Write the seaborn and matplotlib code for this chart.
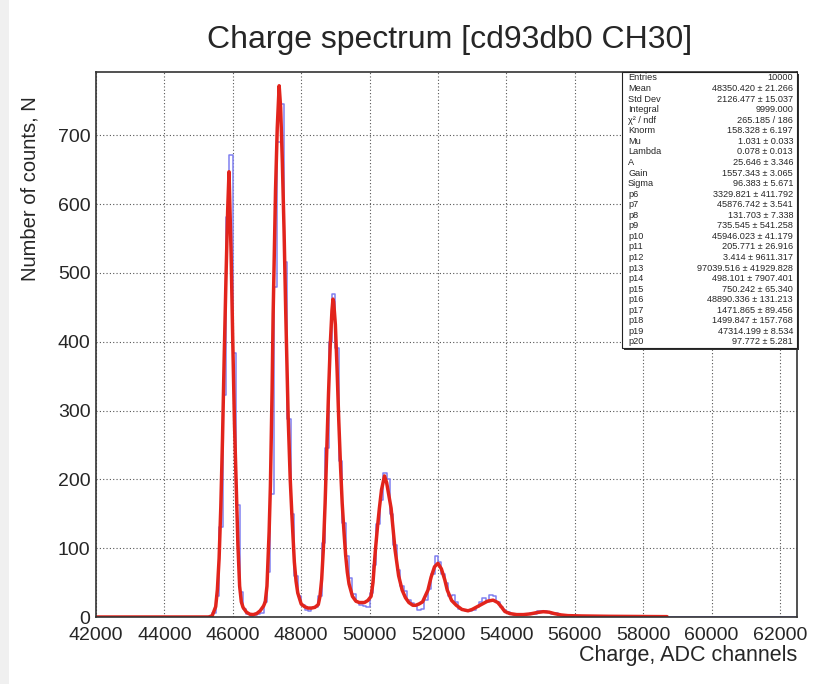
import numpy as np
import pandas as pd
import matplotlib
matplotlib.use("Agg")
import matplotlib.pyplot as plt
import seaborn as sns
from matplotlib.ticker import MultipleLocator
from matplotlib.patches import Rectangle

sns.set_style("white")
plt.rcParams["font.family"] = ["Liberation Sans", "DejaVu Sans"]

# histogram contents, 100-channel bins starting at 45200
bin_width = 100
first_bin = 45200
hist_counts = [
    0, 1, 6, 30, 131, 322, 582, 671, 384, 163, 37, 12, 4, 2, 3, 4, 6, 22,
    65, 179, 479, 690, 746, 516, 288, 150, 60, 30, 18, 10, 8, 13, 15, 30,
    107, 245, 400, 470, 391, 226, 136, 88, 57, 33, 22, 18, 16, 14, 35, 75,
    135, 170, 209, 200, 150, 105, 68, 45, 38, 25, 20, 17, 10, 12, 25, 40,
    62, 88, 80, 62, 50, 30, 32, 22, 12, 10, 8, 9, 10, 14, 22, 27, 22, 32,
    31, 22, 15, 10, 7, 5, 3, 4, 3, 4, 4, 6, 5, 8, 9, 8, 7, 5, 6, 3, 3, 2,
    2, 1, 2, 1, 1, 2, 1, 1, 0, 1, 1, 0, 1,
]

# fit curve
fit_x = [
    42000, 45300, 45400, 45500, 45550, 45600, 45650, 45700, 45750, 45800,
    45850, 45890, 45950, 46000, 46050, 46100, 46150, 46200, 46250, 46300,
    46400, 46500, 46600, 46700, 46800, 46900, 46950, 47000, 47063, 47100,
    47150, 47180, 47250, 47300, 47356, 47400, 47450, 47500, 47550, 47620,
    47680, 47727, 47800, 47850, 47900, 48000, 48100, 48200, 48300, 48400,
    48500, 48550, 48600, 48650, 48700, 48750, 48800, 48850, 48900, 48930,
    48950, 49000, 49050, 49100, 49150, 49200, 49250, 49300, 49350, 49400,
    49500, 49600, 49700, 49800, 49850, 49950, 50044, 50100, 50170, 50230,
    50287, 50350, 50437, 50500, 50560, 50630, 50700, 50747, 50850, 50953,
    51050, 51150, 51267, 51350, 51450, 51550, 51707, 51800, 51900, 52000,
    52100, 52200, 52273, 52400, 52537, 52700, 52880, 53000, 53150, 53300,
    53450, 53613, 53750, 53850, 53956, 54100, 54300, 54500, 54700, 54900,
    55080, 55250, 55400, 55600, 55800, 56200, 57000, 58000, 58700,
]
fit_y = [
    0, 0, 2, 15, 40, 85, 160, 260, 380, 490,
    590, 647, 530, 400, 280, 190, 105, 45, 22, 14,
    7, 4, 3.5, 5, 9, 16, 22, 45, 124, 190,
    330, 440, 620, 710, 772, 740, 660, 560, 440, 290,
    200, 150, 80, 52, 35, 19, 15, 13, 13, 14,
    18, 30, 55, 100, 165, 245, 325, 395, 445, 462,
    458, 425, 360, 285, 220, 165, 125, 90, 65, 48,
    30, 23, 21, 21, 21, 24, 30, 50, 97, 130,
    158, 185, 205, 195, 178, 158, 122, 97, 60, 39,
    28, 21, 17, 17, 19, 22, 39, 58, 73, 78,
    70, 54, 39, 24, 17, 11, 9, 11, 15, 19,
    23, 24.5, 21, 15, 8, 5, 3.5, 3.5, 4.5, 6.5,
    7.7, 7, 5, 3, 2, 1.5, 1, 0.7, 0.5,
]

stat_names = [
    "Entries", "Mean", "Std Dev", "Integral", "\u03c7\u00b2 / ndf", "Knorm", "Mu",
    "Lambda", "A", "Gain", "Sigma", "p6", "p7", "p8", "p9", "p10", "p11",
    "p12", "p13", "p14", "p15", "p16", "p17", "p18", "p19", "p20",
]
stat_values = [
    "10000", "48350.420 \u00b1 21.266", "2126.477 \u00b1 15.037", "9999.000",
    "265.185 / 186", "158.328 \u00b1 6.197", "1.031 \u00b1 0.033",
    "0.078 \u00b1 0.013", "25.646 \u00b1 3.346", "1557.343 \u00b1 3.065",
    "96.383 \u00b1 5.671", "3329.821 \u00b1 411.792", "45876.742 \u00b1 3.541",
    "131.703 \u00b1 7.338", "735.545 \u00b1 541.258", "45946.023 \u00b1 41.179",
    "205.771 \u00b1 26.916", "3.414 \u00b1 9611.317", "97039.516 \u00b1 41929.828",
    "498.101 \u00b1 7907.401", "750.242 \u00b1 65.340", "48890.336 \u00b1 131.213",
    "1471.865 \u00b1 89.456", "1499.847 \u00b1 157.768", "47314.199 \u00b1 8.534",
    "97.772 \u00b1 5.281",
]

W, H = 813, 684
fig = plt.figure(figsize=(W / 100, H / 100), dpi=100)
fig.add_artist(Rectangle((0, 0), 9 / W, 1, transform=fig.transFigure,
                         facecolor="#f0f0f0", edgecolor="none", zorder=0))

ax = fig.add_axes([96 / W, 1 - 617 / H, (797 - 96) / W, (617 - 72) / H])

centers = [first_bin + bin_width * (i + 0.5) for i in range(len(hist_counts))]
df = pd.DataFrame({"charge": centers, "counts": hist_counts})
sns.histplot(data=df, x="charge", weights="counts", binwidth=bin_width,
             binrange=(42000, 62500), element="step", fill=False,
             color="#8080f0", linewidth=1.1, ax=ax)
sns.lineplot(x=fit_x, y=fit_y, color="#e2241c", linewidth=2.5, ax=ax,
             sort=False, estimator=None)

ax.set_xlim(42000, 62500)
ax.set_ylim(0, 792)
ax.xaxis.set_major_locator(MultipleLocator(2000))
ax.xaxis.set_minor_locator(MultipleLocator(500))
ax.yaxis.set_major_locator(MultipleLocator(100))
ax.yaxis.set_minor_locator(MultipleLocator(20))
ax.tick_params(which="major", direction="in", length=8, width=1,
               labelsize=14, color="#333333")
ax.tick_params(which="minor", direction="in", length=4, width=1, color="#333333")
ax.tick_params(axis="x", pad=7)
ax.tick_params(axis="y", pad=4)
ax.grid(True, which="major", linestyle=(0, (1, 2)), color="#555555", linewidth=0.8)
ax.set_xlabel("")
ax.set_ylabel("")
for sp in ax.spines.values():
    sp.set_color("#333333")
    sp.set_linewidth(1.2)

# titles
fig.text(450 / W, 1 - 40 / H, "Charge spectrum [cd93db0 CH30]",
         ha="center", va="center", fontsize=23)
fig.text(30 / W, 1 - 96 / H, "Number of counts, N", rotation=90,
         ha="center", va="top", fontsize=14.5)
fig.text(797 / W, 1 - 656 / H, "Charge, ADC channels",
         ha="right", va="center", fontsize=15.5)

# stats box
bx0, bx1, by0, by1 = 622, 797, 72, 348
fig.add_artist(Rectangle((bx0 / W + 2 / W, 1 - (by1 + 2) / H), (bx1 - bx0) / W,
                         (by1 - by0) / H, transform=fig.transFigure,
                         facecolor="#333333", edgecolor="none", zorder=4))
fig.add_artist(Rectangle((bx0 / W, 1 - by1 / H), (bx1 - bx0) / W, (by1 - by0) / H,
                         transform=fig.transFigure, facecolor="white",
                         edgecolor="#222222", linewidth=0.8, zorder=5))
row_h = (342 - 78) / (len(stat_names) - 1)
for i, (name, val) in enumerate(zip(stat_names, stat_values)):
    yy = 1 - (78 + i * row_h) / H
    fig.text(628 / W, yy, name, ha="left", va="center", fontsize=6.6, zorder=6)
    fig.text(793 / W, yy, val, ha="right", va="center", fontsize=6.6, zorder=6)

fig.savefig("out.png", dpi=100)
